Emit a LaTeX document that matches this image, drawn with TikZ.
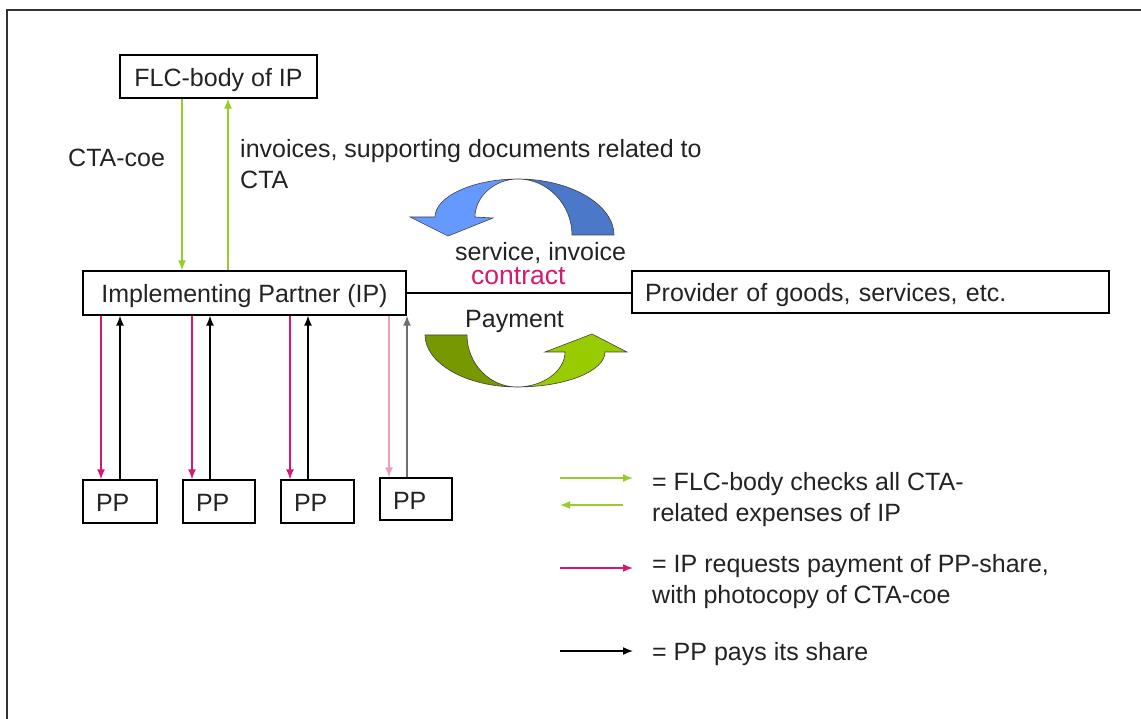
\documentclass[tikz,border=0pt]{standalone}
\usepackage{fontspec}
\setmainfont{Liberation Sans}
\usetikzlibrary{arrows.meta}
\definecolor{lgreen}{RGB}{150,205,40}
\definecolor{pinkc}{RGB}{214,24,110}
\definecolor{lpink}{RGB}{232,160,190}
\definecolor{grayc}{RGB}{110,110,110}
\definecolor{blueL}{RGB}{102,153,255}
\definecolor{blueD}{RGB}{75,120,200}
\definecolor{greenD}{RGB}{119,153,0}
\definecolor{greenL}{RGB}{153,204,0}
\definecolor{textc}{RGB}{35,35,35}
\begin{document}
\begin{tikzpicture}[x=1pt,y=-1pt,
  every node/.style={font=\fontsize{25}{31}\selectfont, text=textc, inner sep=0pt},
  box/.style={draw=black, line width=1.3pt, text height=20pt, text depth=0pt},
  arr/.style={line width=1.5pt, -{Latex[length=10pt,width=8pt]}},
  curv/.style={draw=black!75, line width=0.6pt}]
\useasboundingbox (0,0) rectangle (1141,719);
% frame
\draw[line width=1.8pt, black!80] (7,719) -- (7,10) -- (1141,10);

% boxes
\node[box, minimum width=197pt, minimum height=43pt] (flc) at (218.5,76.5) {FLC-body of IP};
\node[box, minimum width=323pt, minimum height=44pt] (ip) at (244.5,293) {Implementing Partner (IP)};
\node[box, minimum height=42pt, inner xsep=13pt, text width=451pt, align=left] (prov) at (870.5,292) {Provider of goods, services, etc.};
\node[box, minimum height=43pt, inner xsep=13pt, text width=48pt, align=left] (pp1) at (120,501.5) {PP};
\node[box, minimum height=43pt, inner xsep=13pt, text width=46pt, align=left] (pp2) at (219,501.5) {PP};
\node[box, minimum height=43pt, inner xsep=13pt, text width=47pt, align=left] (pp3) at (317.5,501.5) {PP};
\node[box, minimum height=42pt, inner xsep=13pt, text width=46pt, align=left] (pp4) at (416,499) {PP};

% x positions of vertical connectors
\coordinate (xg1) at (182,0);
\coordinate (xg2) at (228,0);
\coordinate (xp1) at (101,0);
\coordinate (xb1) at (120,0);
\coordinate (xp2) at (192,0);
\coordinate (xb2) at (210,0);
\coordinate (xp3) at (290,0);
\coordinate (xb3) at (308,0);
\coordinate (xp4) at (389,0);
\coordinate (xb4) at (407,0);

% FLC <-> IP
\draw[arr, lgreen] (flc.south -| xg1) -- (ip.north -| xg1);
\draw[arr, lgreen] (ip.north -| xg2) -- (flc.south -| xg2);

% IP <-> PP
\draw[arr, pinkc] (ip.south -| xp1) -- (pp1.north -| xp1);
\draw[arr, black] (pp1.north -| xb1) -- (ip.south -| xb1);
\draw[arr, pinkc] (ip.south -| xp2) -- (pp2.north -| xp2);
\draw[arr, black] (pp2.north -| xb2) -- (ip.south -| xb2);
\draw[arr, pinkc] (ip.south -| xp3) -- (pp3.north -| xp3);
\draw[arr, black] (pp3.north -| xb3) -- (ip.south -| xb3);
\draw[arr, lpink] (ip.south -| xp4) -- (pp4.north -| xp4);
\draw[arr, grayc] (pp4.north -| xb4) -- (ip.south -| xb4);

% contract line
\draw[line width=1.3pt] (ip.east) -- (ip.east -| prov.west);

% labels
\node[anchor=base west] (ctacoe) at (68,167) {CTA-coe};
\node[anchor=north west, align=left] (inv) at (240,139) {invoices, supporting documents related to\\CTA};
\node[anchor=base west] (svc) at (455,261) {service, invoice};
\node[anchor=base west, text=pinkc, font=\fontsize{26.5}{31}\selectfont] (con) at (471,285) {contract};
\node[anchor=base west] (pay) at (465,328) {Payment};

% blue curved arrow
\filldraw[curv, fill=blueD] (572,235) .. controls (572,205) and (548,179) .. (518,179)
  .. controls (571,179) and (614,205) .. (614,235) -- cycle;
\filldraw[curv, fill=blueL] (410,217) -- (448,236) -- (493,218) -- (475,217)
  .. controls (475,197) and (494,179) .. (518,179)
  .. controls (472,179) and (435,197) .. (435,217) -- cycle;

% green curved arrow
\filldraw[curv, fill=greenD] (425,335) .. controls (425,363) and (466,387) .. (517,387)
  .. controls (489,387) and (467,363) .. (467,335) -- cycle;
\filldraw[curv, fill=greenL] (517,387) .. controls (566,387) and (605,371) .. (605,352)
  -- (627,352) -- (592,334) -- (545,352) -- (565,352)
  .. controls (565,371) and (543,387) .. (517,387) -- cycle;

% legend
\coordinate (la1) at (560,478); \coordinate (lb1) at (633,478);
\coordinate (la2) at (623,505); \coordinate (lb2) at (560,505);
\coordinate (la3) at (560,568); \coordinate (lb3) at (633,568);
\coordinate (la4) at (560,651); \coordinate (lb4) at (633,651);
\draw[arr, lgreen] (la1) -- (lb1);
\draw[arr, lgreen] (la2) -- (lb2);
\draw[arr, pinkc] (la3) -- (lb3);
\draw[arr, black] (la4) -- (lb4);
\node[anchor=north west, align=left] (l1) at (652,472) {= FLC-body checks all CTA-\\related expenses of IP};
\node[anchor=north west, align=left] (l2) at (652,554) {= IP requests payment of PP-share,\\with photocopy of CTA-coe};
\node[anchor=base west] (l3) at (652,660) {= PP pays its share};
\end{tikzpicture}
\end{document}
